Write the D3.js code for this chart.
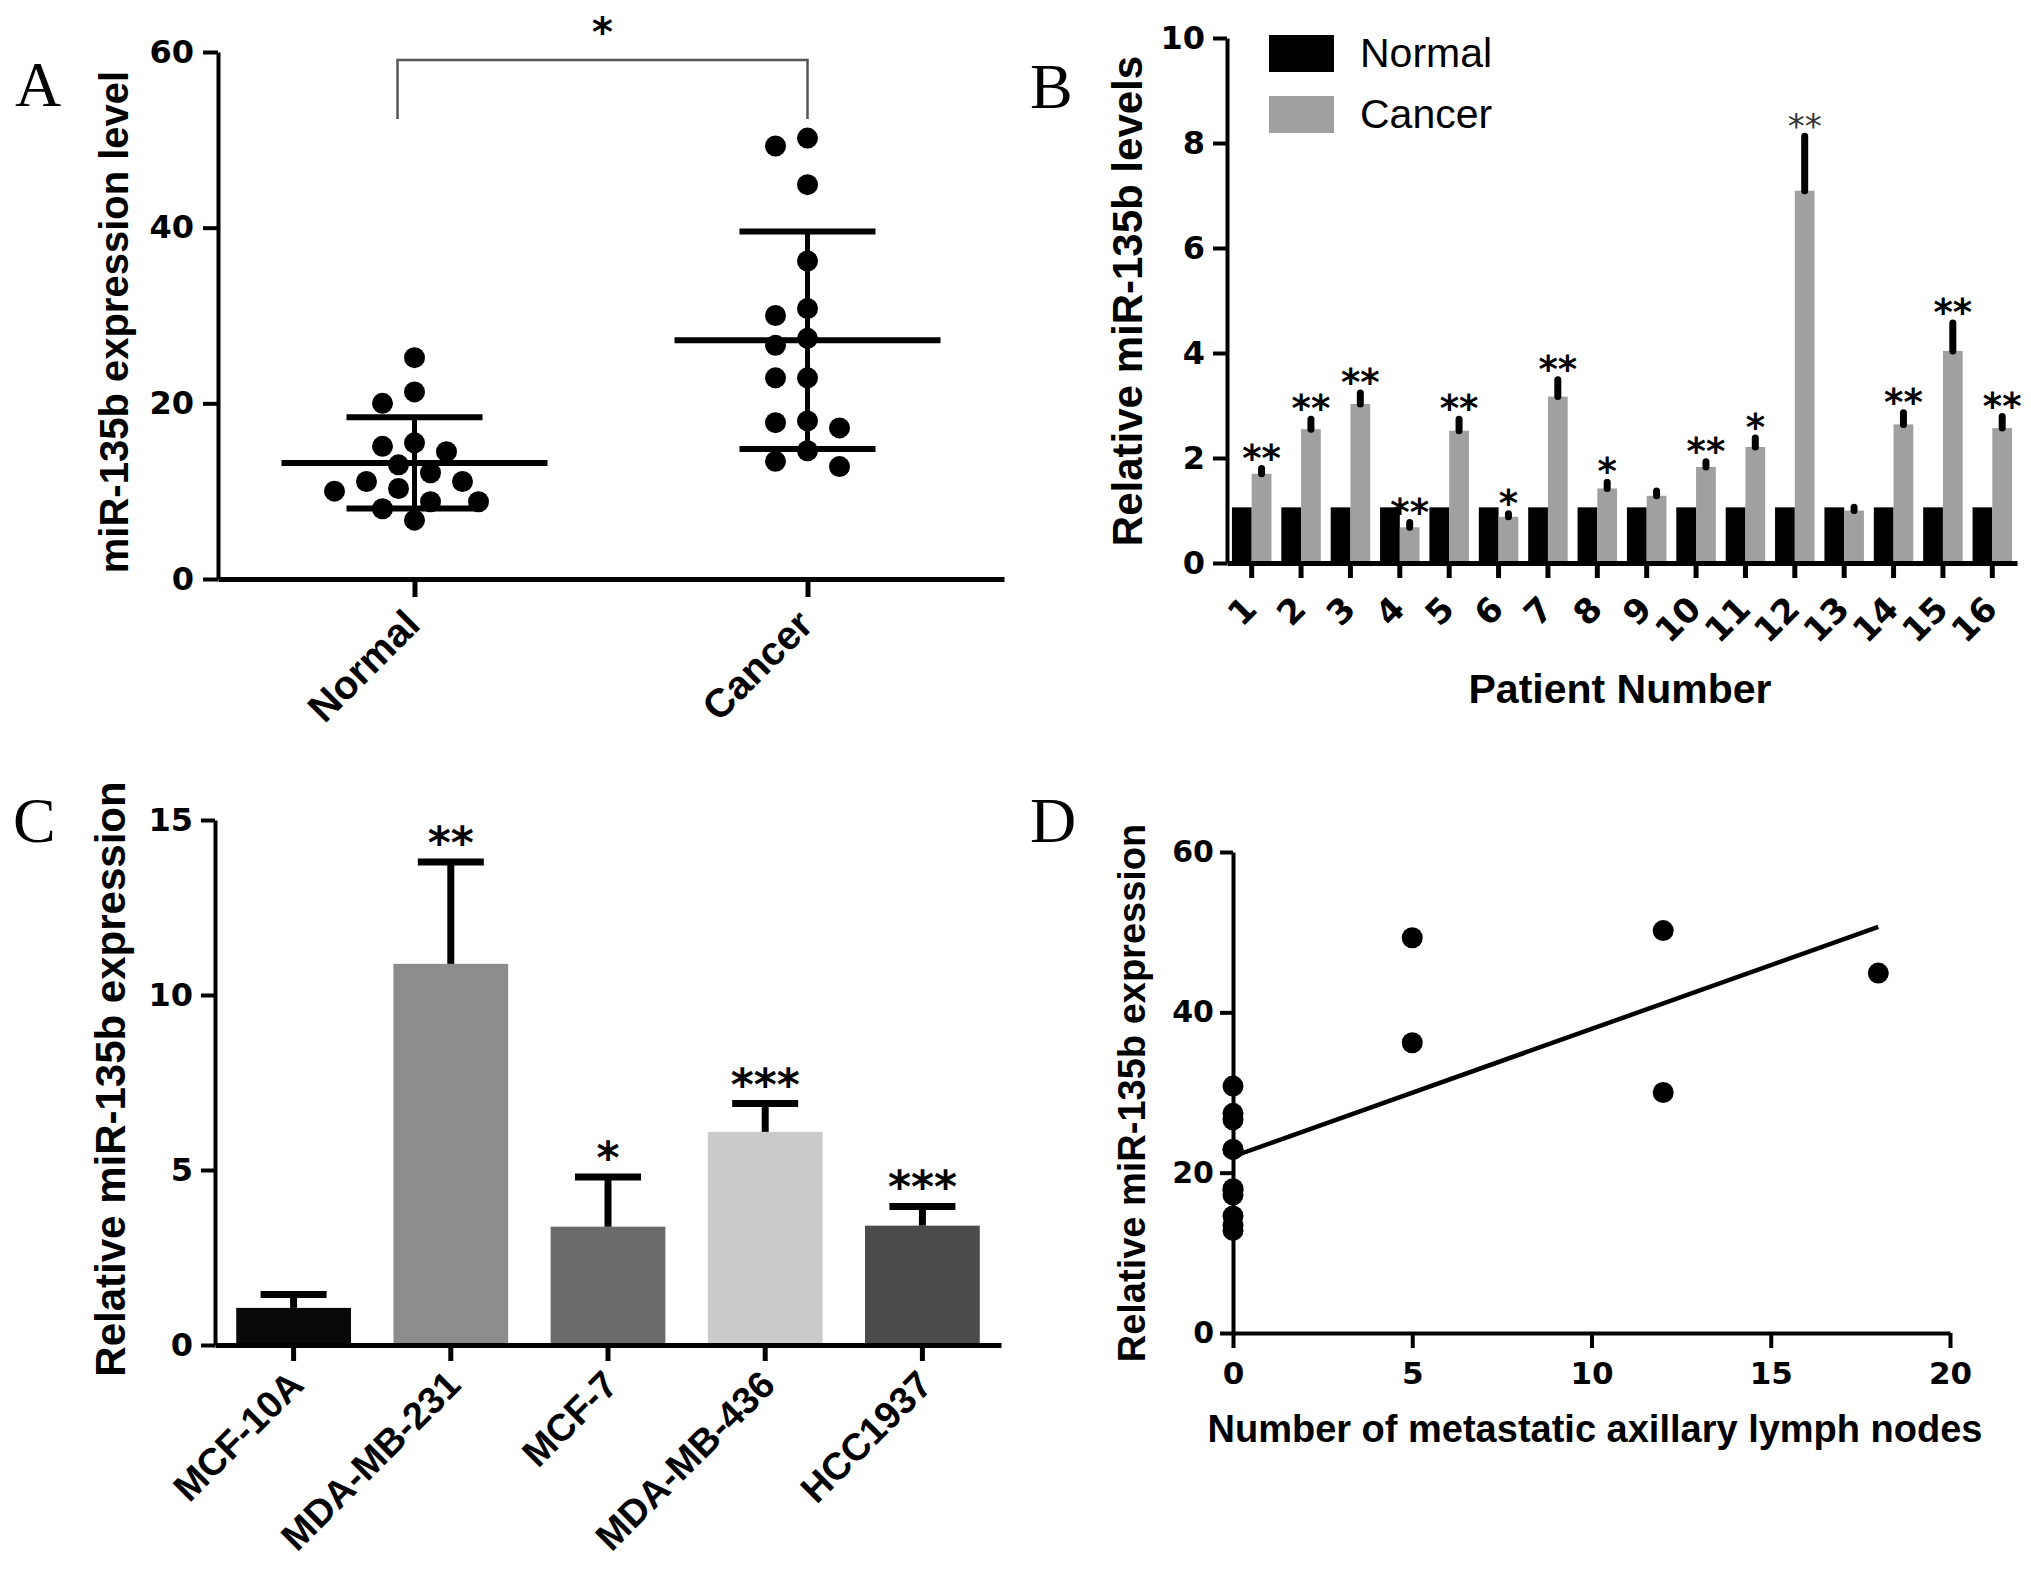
<!DOCTYPE html>
<html>
<head>
<meta charset="utf-8">
<script src="https://cdn.jsdelivr.net/npm/d3@7"></script>
<style>
body { margin: 0; background: #fff; }
text { font-family: "Liberation Sans", Arial, Helvetica, sans-serif; }
</style>
</head>
<body>
<div id="chart"></div>
<script>
// ---- data ----

// A: scatter of miR-135b in tissue
var groupsA = ["Normal", "Cancer"];
var normalLevels = [25.2, 21.3, 20.0, 15.1, 15.5, 14.5, 13.0, 12.1, 11.1, 11.1, 10.0, 10.3, 8.8, 8.8, 8.0, 6.7];
var cancerLevels = [50.2, 49.3, 44.9, 36.2, 30.8, 30.0, 27.4, 26.6, 22.9, 22.9, 17.8, 17.2, 18.0, 14.6, 12.8, 13.4];
var ticksA = [0, 20, 40, 60];

// B: paired bars per patient
var patients = ["1", "2", "3", "4", "5", "6", "7", "8", "9", "10", "11", "12", "13", "14", "15", "16"];
var seriesB = ["Normal", "Cancer"];
var normalRel = [1.06, 1.06, 1.06, 1.06, 1.06, 1.06, 1.06, 1.06, 1.06, 1.06, 1.06, 1.06, 1.06, 1.06, 1.06, 1.06];
var cancerRel = [1.70, 2.55, 3.03, 0.68, 2.52, 0.88, 3.17, 1.42, 1.28, 1.83, 2.21, 7.09, 1.00, 2.64, 4.04, 2.57];
var cancerErr = [0.10, 0.19, 0.21, 0.09, 0.22, 0.06, 0.32, 0.12, 0.09, 0.10, 0.17, 1.04, 0.06, 0.22, 0.53, 0.22];
var starsB = ["**", "**", "**", "**", "**", "*", "**", "*", "", "**", "*", "**", "", "**", "**", "**"];
var ticksB = [0, 2, 4, 6, 8, 10];

// C: cell lines
var cellLines = ["MCF-10A", "MDA-MB-231", "MCF-7", "MDA-MB-436", "HCC1937"];
var cellExpr = [1.06, 10.89, 3.38, 6.09, 3.41];
var cellErr = [0.38, 2.91, 1.42, 0.81, 0.55];
var starsC = ["", "**", "*", "***", "***"];
var ticksC = [0, 5, 10, 15];

// D: correlation with lymph nodes
var lymphNodes = [0, 0, 0, 0, 0, 0, 0, 0, 0, 0, 0, 5, 5, 12, 12, 18];
var lymphExpr = [30.8, 27.4, 26.6, 22.9, 22.9, 18.0, 17.8, 17.2, 14.6, 13.4, 12.8, 49.3, 36.2, 50.2, 30.0, 44.9];
var ticksDx = [0, 5, 10, 15, 20];
var ticksDy = [0, 20, 40, 60];

// ---- drawing ----
var NUM_FONT = "'DejaVu Sans', Verdana, sans-serif";
var TXT_FONT = "'Liberation Sans', Arial, sans-serif";

var svg = d3.select("#chart").append("svg")
    .attr("width", 2031)
    .attr("height", 1581);
svg.append("rect").attr("width", 2031).attr("height", 1581).attr("fill", "#fff");

function styleAxis(g, fontSize, width, family) {
    g.select(".domain").attr("stroke", "#000").attr("stroke-width", width);
    g.selectAll(".tick line").attr("stroke", "#000").attr("stroke-width", width);
    g.selectAll(".tick text")
        .attr("font-size", fontSize)
        .attr("font-weight", "bold")
        .attr("fill", "#000")
        .style("font-family", family || NUM_FONT);
}

function rotateLabels(g, dx, dy) {
    g.selectAll(".tick text")
        .attr("x", 0).attr("y", 0).attr("dy", 0)
        .attr("text-anchor", "end")
        .attr("transform", "translate(" + dx + "," + dy + ") rotate(-45)");
}

function panelLetter(t, x, y) {
    svg.append("text").attr("x", x).attr("y", y)
        .attr("font-size", 64)
        .style("font-family", "'Liberation Serif', 'Times New Roman', serif")
        .text(t);
}

function yTitle(t, x, y, size) {
    svg.append("text")
        .attr("transform", "translate(" + x + "," + y + ") rotate(-90)")
        .attr("text-anchor", "middle")
        .attr("font-size", size)
        .attr("font-weight", "bold")
        .text(t);
}

// simple beeswarm: place dots from the top down, nudging sideways on collision
function swarm(values, yScale, minDist, step) {
    var order = values.map(function (v, i) { return i; })
        .sort(function (a, b) { return values[b] - values[a]; });
    var placed = [];
    var off = [];
    order.forEach(function (i) {
        var y = yScale(values[i]);
        for (var k = 0; k < 40; k++) {
            var dx = k === 0 ? 0 : (k % 2 ? -1 : 1) * Math.ceil(k / 2) * step;
            var ok = placed.every(function (p) {
                return Math.hypot(p.x - dx, p.y - y) >= minDist;
            });
            if (ok) { off[i] = dx; placed.push({ x: dx, y: y }); break; }
        }
    });
    return off;
}

// ===== Panel A =====
panelLetter("A", 15, 106);

var yA = d3.scaleLinear().domain([0, 60]).range([579, 52]);
var xA = d3.scalePoint().domain(groupsA).range([218, 1004]).padding(0.5);

var gAy = svg.append("g").attr("transform", "translate(218,0)")
    .call(d3.axisLeft(yA).tickValues(ticksA).tickSize(15).tickSizeOuter(0).tickPadding(9));
styleAxis(gAy, 32, 4);

var gAx = svg.append("g").attr("transform", "translate(0,579)")
    .call(d3.axisBottom(xA).tickSize(18).tickSizeOuter(0));
styleAxis(gAx, 40, 5, TXT_FONT);
rotateLabels(gAx, 7, 48);

yTitle("miR-135b expression level", 128, 322, 40);

var dotsA = [normalLevels, cancerLevels];
dotsA.forEach(function (vals, gi) {
    var cx = xA(groupsA[gi]);
    var off = swarm(vals, yA, 23.5, 16);
    svg.append("g").selectAll("circle").data(vals).enter().append("circle")
        .attr("cx", function (d, i) { return cx + off[i]; })
        .attr("cy", function (d) { return yA(d); })
        .attr("r", 10.5)
        .attr("fill", "#000");

    var m = d3.mean(vals), sd = d3.deviation(vals);
    var gm = svg.append("g").attr("stroke", "#000");
    gm.append("line").attr("x1", cx - 133).attr("x2", cx + 133)
        .attr("y1", yA(m)).attr("y2", yA(m)).attr("stroke-width", 6);
    gm.append("line").attr("x1", cx).attr("x2", cx)
        .attr("y1", yA(m + sd)).attr("y2", yA(m - sd)).attr("stroke-width", 5);
    [m + sd, m - sd].forEach(function (v) {
        gm.append("line").attr("x1", cx - 68).attr("x2", cx + 68)
            .attr("y1", yA(v)).attr("y2", yA(v)).attr("stroke-width", 6);
    });
});

// significance bracket
svg.append("path")
    .attr("d", "M" + (xA("Normal") - 17) + ",119V60H" + xA("Cancer") + "V119")
    .attr("fill", "none").attr("stroke", "#555").attr("stroke-width", 2.5);
svg.append("text").attr("x", (xA("Normal") - 17 + xA("Cancer")) / 2).attr("y", 46)
    .attr("text-anchor", "middle").attr("font-size", 40).attr("font-weight", "bold")
    .style("font-family", NUM_FONT)
    .text("*");

// ===== Panel B =====
panelLetter("B", 1030, 108);

var yB = d3.scaleLinear().domain([0, 10]).range([563, 38]);
var xB = d3.scaleBand().domain(patients).range([1227, 2017]).paddingInner(0.2).paddingOuter(0.1);
var subB = d3.scaleBand().domain(seriesB).range([0, xB.bandwidth()]);
var colorB = d3.scaleOrdinal().domain(seriesB).range(["#000000", "#a0a0a0"]);

var rowsB = patients.map(function (p, i) {
    return { id: p, Normal: normalRel[i], Cancer: cancerRel[i], err: cancerErr[i], star: starsB[i] };
});

var grpB = svg.append("g").selectAll("g").data(rowsB).enter().append("g")
    .attr("transform", function (d) { return "translate(" + xB(d.id) + ",0)"; });
grpB.selectAll("rect").data(function (d) {
    return seriesB.map(function (s) { return { key: s, value: d[s] }; });
}).enter().append("rect")
    .attr("x", function (d) { return subB(d.key); })
    .attr("y", function (d) { return yB(d.value); })
    .attr("width", subB.bandwidth())
    .attr("height", function (d) { return yB(0) - yB(d.value); })
    .attr("fill", function (d) { return colorB(d.key); });

grpB.append("line")
    .attr("x1", subB("Cancer") + subB.bandwidth() / 2)
    .attr("x2", subB("Cancer") + subB.bandwidth() / 2)
    .attr("y1", function (d) { return yB(d.Cancer); })
    .attr("y2", function (d) { return yB(d.Cancer + d.err); })
    .attr("stroke", "#000").attr("stroke-width", 7).attr("stroke-linecap", "round");

grpB.append("text")
    .attr("x", subB("Cancer") + subB.bandwidth() / 2)
    .attr("y", function (d) { return yB(d.Cancer + d.err) + 2; })
    .attr("text-anchor", "middle")
    .style("font-family", NUM_FONT)
    .attr("font-size", function (d) { return d.id === "12" ? 34 : 37; })
    .attr("font-weight", function (d) { return d.id === "12" ? "normal" : "bold"; })
    .attr("fill", function (d) { return d.id === "12" ? "#333" : "#000"; })
    .text(function (d) { return d.star; });

var gBy = svg.append("g").attr("transform", "translate(1227,0)")
    .call(d3.axisLeft(yB).tickValues(ticksB).tickSize(14).tickSizeOuter(0).tickPadding(8));
styleAxis(gBy, 32, 4);

var gBx = svg.append("g").attr("transform", "translate(0,563)")
    .call(d3.axisBottom(xB).tickSize(15).tickSizeOuter(0));
styleAxis(gBx, 34, 5);
rotateLabels(gBx, 7, 48);

yTitle("Relative miR-135b levels", 1142, 301, 42);
svg.append("text").attr("x", 1620).attr("y", 703).attr("text-anchor", "middle")
    .attr("font-size", 41).attr("font-weight", "bold").text("Patient Number");

// legend
var legB = svg.append("g").selectAll("g").data(seriesB).enter().append("g")
    .attr("transform", function (d, i) { return "translate(1269," + (35 + i * 61) + ")"; });
legB.append("rect").attr("width", 65).attr("height", 37)
    .attr("fill", function (d) { return colorB(d); });
legB.append("text").attr("x", 91).attr("y", 32)
    .attr("font-size", 41).text(function (d) { return d; });

// ===== Panel C =====
panelLetter("C", 13, 842);

var yC = d3.scaleLinear().domain([0, 15]).range([1345, 820]);
var xC = d3.scaleBand().domain(cellLines).range([215, 1001]).paddingInner(0.27).paddingOuter(0.135);
var colorC = d3.scaleOrdinal().domain(cellLines)
    .range(["#080808", "#8c8c8c", "#6b6b6b", "#cacaca", "#4b4b4b"]);

var rowsC = cellLines.map(function (c, i) {
    return { name: c, value: cellExpr[i], err: cellErr[i], star: starsC[i] };
});

var grpC = svg.append("g").selectAll("g").data(rowsC).enter().append("g")
    .attr("transform", function (d) { return "translate(" + xC(d.name) + ",0)"; });
grpC.append("rect")
    .attr("y", function (d) { return yC(d.value); })
    .attr("width", xC.bandwidth())
    .attr("height", function (d) { return yC(0) - yC(d.value); })
    .attr("fill", function (d) { return colorC(d.name); });
var midC = xC.bandwidth() / 2;
grpC.append("line")
    .attr("x1", midC).attr("x2", midC)
    .attr("y1", function (d) { return yC(d.value); })
    .attr("y2", function (d) { return yC(d.value + d.err); })
    .attr("stroke", "#000").attr("stroke-width", 7);
grpC.append("line")
    .attr("x1", midC - 33).attr("x2", midC + 33)
    .attr("y1", function (d) { return yC(d.value + d.err); })
    .attr("y2", function (d) { return yC(d.value + d.err); })
    .attr("stroke", "#000").attr("stroke-width", 7);
grpC.append("text")
    .attr("x", midC)
    .attr("y", function (d) { return yC(d.value + d.err) - 4; })
    .attr("text-anchor", "middle")
    .style("font-family", NUM_FONT)
    .attr("font-size", 44).attr("font-weight", "bold")
    .text(function (d) { return d.star; });

var gCy = svg.append("g").attr("transform", "translate(215,0)")
    .call(d3.axisLeft(yC).tickValues(ticksC).tickSize(14).tickSizeOuter(0).tickPadding(8));
styleAxis(gCy, 32, 4);

var gCx = svg.append("g").attr("transform", "translate(0,1345)")
    .call(d3.axisBottom(xC).tickSize(16).tickSizeOuter(0));
styleAxis(gCx, 38, 5, TXT_FONT);
rotateLabels(gCx, 12, 42);

yTitle("Relative miR-135b expression", 125, 1079, 42);

// ===== Panel D =====
panelLetter("D", 1030, 842);

var xD = d3.scaleLinear().domain([0, 20]).range([1233, 1950]);
var yD = d3.scaleLinear().domain([0, 60]).range([1333, 852]);

var gDy = svg.append("g").attr("transform", "translate(1233,0)")
    .call(d3.axisLeft(yD).tickValues(ticksDy).tickSize(13).tickSizeOuter(0).tickPadding(6));
styleAxis(gDy, 30, 4);

var gDx = svg.append("g").attr("transform", "translate(0,1333)")
    .call(d3.axisBottom(xD).tickValues(ticksDx).tickSize(15).tickSizeOuter(0).tickPadding(14));
styleAxis(gDx, 31, 4);

// least squares fit
var mx = d3.mean(lymphNodes), my = d3.mean(lymphExpr);
var sxy = d3.sum(lymphNodes, function (x, i) { return (x - mx) * (lymphExpr[i] - my); });
var sxx = d3.sum(lymphNodes, function (x) { return (x - mx) * (x - mx); });
var slope = sxy / sxx, icpt = my - slope * mx;
var fitX = d3.extent(lymphNodes);
svg.append("line")
    .attr("x1", xD(fitX[0])).attr("y1", yD(icpt + slope * fitX[0]))
    .attr("x2", xD(fitX[1])).attr("y2", yD(icpt + slope * fitX[1]))
    .attr("stroke", "#000").attr("stroke-width", 4.5);

svg.append("g").selectAll("circle").data(lymphExpr).enter().append("circle")
    .attr("cx", function (d, i) { return xD(lymphNodes[i]); })
    .attr("cy", function (d) { return yD(d); })
    .attr("r", 10.5)
    .attr("fill", "#000");

yTitle("Relative miR-135b expression", 1145, 1093, 38);
svg.append("text").attr("x", 1595).attr("y", 1442).attr("text-anchor", "middle")
    .attr("font-size", 38).attr("font-weight", "bold")
    .text("Number of metastatic axillary lymph nodes");
</script>
</body>
</html>
